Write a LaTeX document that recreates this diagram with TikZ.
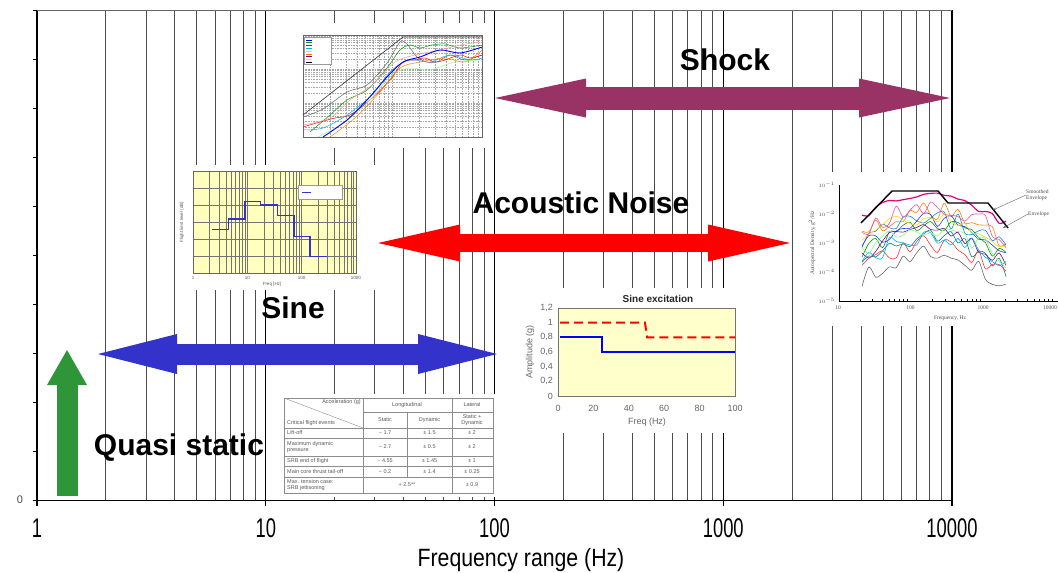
\documentclass[tikz,border=0pt]{standalone}
\usepackage{fontspec}
\setmainfont{Liberation Sans}
\newfontfamily\psdfont{Liberation Serif}
\usepackage{graphicx}
\usetikzlibrary{arrows.meta,positioning}

\definecolor{qsgreen}{RGB}{46,150,56}
\definecolor{sineblue}{RGB}{51,51,204}
\definecolor{noisered}{RGB}{255,0,0}
\definecolor{shockplum}{RGB}{153,51,102}
\definecolor{paleyellow}{RGB}{255,255,204}
\definecolor{flightyellow}{RGB}{255,255,190}
\definecolor{psdpink}{RGB}{230,0,126}

\tikzset{
  gridminor/.style={black!70, line width=0.8pt},
  gridmajor/.style={black, line width=1.1pt},
  bandlabel/.style={font=\fontsize{30}{34}\selectfont\bfseries, inner sep=0pt},
  ticklabel/.style={font=\fontsize{27}{30}\selectfont, text=black, inner sep=0pt},
  tinytext/.style={font=\fontsize{5.5}{6.5}\selectfont, text=black!65, inner sep=0pt},
  chartlabel/.style={font=\fontsize{9}{10}\selectfont, text=black!60, inner sep=0pt},
  psdlabel/.style={font=\psdfont\fontsize{5.5}{6.5}\selectfont, text=black!70, inner sep=0pt},
  tabline/.style={black!45, line width=0.4pt},
  srsgrid/.style={black!35, line width=0.25pt, dash pattern=on 0.8pt off 0.8pt},
  flgrid/.style={black!55, line width=0.35pt},
  qsarrow/.style={line width=21pt, qsgreen, >={Triangle[length=35pt,width=40pt,line width=0pt]}, ->},
  sinearrow/.style={line width=21pt, sineblue, >={Triangle[length=79pt,width=40pt,line width=0pt]}, <->},
  noisearrow/.style={line width=18pt, noisered, >={Triangle[length=82pt,width=37pt,line width=0pt]}, <->},
  shockarrow/.style={line width=23pt, shockplum, >={Triangle[length=91pt,width=39pt,line width=0pt]}, <->},
}

\begin{document}
\begin{tikzpicture}[x=1pt, y=-1pt]
\useasboundingbox (0,0) rectangle (1058,573);

% log grid
\foreach \d in {0,...,3}
  \foreach \m in {2,...,9}
    \draw[gridminor] ({37+228.75*(\d+log10(\m))},10) -- ({37+228.75*(\d+log10(\m))},500);
\foreach \d in {0,...,4}
  \draw[gridmajor] ({37+228.75*\d},10) -- ({37+228.75*\d},506);
\draw[black!60, line width=0.8pt] (37,10) -- (952,10);
\draw[black, line width=1pt] (33,500) -- (952,500);
\foreach \k in {0,...,9}
  \draw[black, line width=0.8pt] (33,{10+49*\k}) -- (37,{10+49*\k});
\node[font=\fontsize{11}{12}\selectfont, text=black!70, inner sep=0pt] (zero) at (20,500) {0};
\foreach \d/\t in {0/1,1/10,2/100,3/1000,4/10000}
  \node[ticklabel] (xl\d) at ({37+228.75*\d},528) {\scalebox{0.68}[1]{\t}};
\node[font=\fontsize{25}{28}\selectfont, text=black, inner sep=0pt] (xtitle) at (521,560) {\scalebox{0.85}[1]{Frequency range (Hz)}};

% inset: shock response
\fill[white] (295,23) rectangle (486,148);
\foreach \d in {0,1}
  \foreach \m in {1,...,9}
    \draw[srsgrid] ({303+89.5*(\d+log10(\m))},35) -- ({303+89.5*(\d+log10(\m))},137);
\foreach \d in {0,1,2}
  \foreach \m in {1,...,9}
    \draw[srsgrid] (303,{137-34*(\d+log10(\m))}) -- (482,{137-34*(\d+log10(\m))});
\draw[black!60, line width=0.4pt] (303,35) rectangle (482,137);
\draw[black!40, fill=white, line width=0.3pt] (304,37) rectangle (331,64);
\foreach \c [count=\i] in {blue,green!60!black,red,cyan,pink,orange,violet,green!40,black}
  \draw[\c, line width=0.5pt] (306,{37+2.8*\i}) -- (312,{37+2.8*\i});
\draw[black!80, line width=0.6pt] (303,115) -- (403,37) -- (482,37);
\draw[black!60, line width=0.5pt] plot[smooth] coordinates {(303,117) (323,109) (347,92) (367,85) (387,63) (400,42) (407,44) (417,57) (427,62) (437,62) (450,55) (465,60) (482,55)};
\draw[red, line width=0.5pt] plot[smooth] coordinates {(303,127) (320,122) (335,118) (350,115) (370,100) (390,80) (403,62) (415,60) (425,58) (435,62) (445,60) (460,55) (470,58) (482,55)};
\draw[green!60!black, line width=0.5pt] plot[smooth] coordinates {(310,132) (330,115) (347,100) (367,90) (387,68) (400,50) (410,45) (420,48) (432,45) (445,44) (460,48) (482,45)};
\draw[cyan, line width=0.5pt] plot[smooth] coordinates {(303,130) (323,128) (347,115) (372,95) (392,70) (410,60) (430,62) (450,55) (470,60) (482,58)};
\draw[pink!80!red, line width=0.5pt] plot[smooth] coordinates {(303,125) (330,118) (350,100) (372,85) (395,62) (415,55) (440,50) (460,45) (482,42)};
\draw[green!45, line width=0.5pt] plot[smooth] coordinates {(318,137) (345,122) (370,100) (392,75) (410,68) (430,70) (455,62) (482,60)};
\draw[orange, line width=0.5pt] plot[smooth] coordinates {(330,137) (355,118) (380,92) (400,68) (420,62) (445,58) (465,62) (482,50)};
\draw[blue, line width=0.9pt] plot[smooth] coordinates {(323,137) (347,120) (367,100) (387,77) (403,62) (420,57) (440,50) (460,53) (482,47)};

% inset: flight levels
\fill[white] (175,165) rectangle (376,290);
\fill[flightyellow] (193,171) rectangle (356,273);
\foreach \d in {0,1,2}
  \foreach \m in {1,...,9}
    \draw[flgrid] ({193+54.33*(\d+log10(\m))},171) -- ({193+54.33*(\d+log10(\m))},273);
\foreach \k in {1,...,5}
  \draw[flgrid] (193,{171+17*\k}) -- (356,{171+17*\k});
\draw[black!60, line width=0.4pt] (193,171) rectangle (356,273);
\draw[black!40, fill=white, line width=0.3pt] (298,185) rectangle (342,199);
\draw[sineblue, line width=1pt] (302,192) -- (311,192);
\draw[sineblue, line width=1.4pt] (211.7,229.3) -- (228.3,229.3) -- (228.3,219) -- (245,219) -- (245,201.7) -- (260.7,201.7) -- (260.7,205) -- (277.3,205) -- (277.3,215.3) -- (294,215.3) -- (294,236.3) -- (310,236.3) -- (310,256.7) -- (326.7,256.7);
\foreach \d/\t in {0/1,1/10,2/100,3/1000}
  \node[tinytext, font=\fontsize{4.5}{5}\selectfont] (fl\d) at ({193+54.33*\d},278) {\t};
\node[tinytext, font=\fontsize{4.5}{5}\selectfont] (flx) at (272,284) {Freq [Hz]};
\node[tinytext, font=\fontsize{4.5}{5}\selectfont, rotate=90] (fly) at (182,222) {Flight limit level (dB)};

% inset: load table
\fill[white] (282,394) rectangle (498,497);
\draw[tabline] (284,398) rectangle (493,493);
\draw[tabline] (363,398) -- (363,493);
\draw[tabline] (452,398) -- (452,493);
\draw[tabline] (407,412) -- (407,477);
\draw[tabline] (363,412) -- (493,412);
\foreach \y in {428,438,456,466,477}
  \draw[tabline] (284,\y) -- (493,\y);
\draw[tabline] (284,398) -- (363,428);
\node[tinytext, anchor=east] (tacc) at (361,402) {Acceleration (g)};
\node[tinytext, anchor=west] (tcrit) at (287,423) {Critical flight events};
\node[tinytext] (tlong) at (407,405) {Longitudinal};
\node[tinytext] (tlat) at (472,405) {Lateral};
\node[tinytext] (tstat) at (385,420) {Static};
\node[tinytext] (tdyn) at (429.5,420) {Dynamic};
\node[tinytext, align=center] (tsd) at (472,420) {Static +\\Dynamic};
\foreach \y/\ev/\s/\dy/\la [count=\i] in {
    433/Lift-off/{− 1.7}/{± 1.5}/{± 2},
    447/{Maximum dynamic\\pressure}/{− 2.7}/{± 0.5}/{± 2},
    461/SRB end of flight/{− 4.55}/{± 1.45}/{± 1},
    471.5/Main core thrust tail-off/{− 0.2}/{± 1.4}/{± 0.25}}{
  \node[tinytext, anchor=west, align=left] (ev\i) at (287,\y) {\ev};
  \node[tinytext] (st\i) at (385,\y) {\s};
  \node[tinytext] (dy\i) at (429.5,\y) {\dy};
  \node[tinytext] (la\i) at (472,\y) {\la};
}
\node[tinytext, anchor=west, align=left] (ev5) at (287,485) {Max. tension case:\\SRB jettisoning};
\node[tinytext] (st5) at (407,485) {+ 2.5**};
\node[tinytext] (la5) at (472,485) {± 0.9};

% inset: sine excitation
\fill[white] (503,288) rectangle (746,433);
\fill[paleyellow] (558,308) rectangle (735,396);
\draw[black!55, line width=0.5pt] (558,308) rectangle (735,396);
\node[font=\fontsize{10}{11}\selectfont\bfseries, text=black!85, inner sep=0pt] (extitle) at (658,299) {Sine excitation};
\foreach \v/\t in {0/0,1/{0,2},2/{0,4},3/{0,6},4/{0,8},5/1,6/{1,2}}
  \node[chartlabel, anchor=east] (exy\v) at (553,{396-14.67*\v}) {\t};
\foreach \v in {0,20,...,100}
  \node[chartlabel] (exx\v) at ({558+1.77*\v},408) {\v};
\node[chartlabel] (exfreq) at (647,422) {Freq (Hz)};
\node[chartlabel, rotate=90] (examp) at (530,352) {Amplitude (g)};
\draw[noisered, line width=2pt, dash pattern=on 9pt off 5pt] (560,322.7) -- (645,322.7) -- (647,337.3) -- (735,337.3);
\draw[blue, line width=2pt] (560,337.3) -- (602,337.3) -- (602,352) -- (735,352);

% inset: acoustic spectrum
\fill[white] (800,172) rectangle (1058,326);
\draw[black, line width=0.6pt] (839,185) -- (839,301) -- (1058,301);
\foreach \k in {0,...,4}
  \node[psdlabel, anchor=east] (psy\k) at (835,{185+29*\k}) {$10^{-\the\numexpr\k+1\relax}$};
\foreach \d/\t in {0/10,1/100,2/1000}
  \node[psdlabel] (psx\d) at ({838+72.5*\d},308) {\t};
\node[psdlabel, anchor=east] (psx3) at (1057,308) {10000};
\foreach \d in {0,1,2}
  \foreach \m in {2,...,9}
    \draw[black, line width=0.3pt] ({838+72.5*(\d+log10(\m))},301) -- ({838+72.5*(\d+log10(\m))},299);
\node[psdlabel] (psfreq) at (950,318) {Frequency, Hz};
\node[psdlabel, rotate=90] (psdens) at (812,243) {Autospectral Density, g$^2$/Hz};
\pgfmathsetseed{42}
\foreach \c/\o in {orange/14, cyan!70!blue/22, green!60!black/30, blue!80/26, violet/36, teal/42, red!80/48, black!60/58, yellow!80!orange/20, cyan/40, green!50/34, magenta!70/10}
  \draw[\c, line width=0.6pt] plot[smooth, domain=862:1006, samples=22] (\x, {min(296, 196+\o+32*((\x-930)/75)^2+9*rand)});
\draw[psdpink, line width=1.2pt] plot[smooth, domain=862:1006, samples=22] (\x, {194+30*((\x-930)/75)^2+5*rand});
\draw[black, line width=1.4pt] (861,223) -- (892,191) -- (938,191) -- (948,203) -- (988,203) -- (1008,228);
\node[psdlabel, anchor=west, align=left] (smenv) at (1026,195) {Smoothed\\Envelope};
\node[psdlabel, anchor=west] (envlbl) at (1028,214) {Envelope};
\draw[black!60, line width=0.4pt, -{Stealth[length=3pt]}] (smenv.west) -- (993,210);
\draw[black!60, line width=0.4pt, -{Stealth[length=3pt]}] (envlbl.west) -- (1003,228);

% frequency bands
\coordinate (qsbot) at (67,496);
\coordinate (qstop) at (67,350);
\coordinate (sineL) at (98,354);
\coordinate (sineR) at (497,354);
\coordinate (noiseL) at (378,243);
\coordinate (noiseR) at (790,243);
\coordinate (shockL) at (495,98);
\coordinate (shockR) at (950,98);
\draw[qsarrow] (qsbot) -- (qstop);
\draw[sinearrow] (sineL) -- (sineR);
\draw[noisearrow] (noiseL) -- (noiseR);
\draw[shockarrow] (shockL) -- (shockR);

\node[bandlabel] (qslabel) at (179,448) {Quasi static};
\node[bandlabel] (sinelabel) at (293,308) {Sine};
\node[bandlabel] (noiselabel) at (581,203) {Acoustic Noise};
\node[bandlabel] (shocklabel) at (725,60) {Shock};
\end{tikzpicture}
\end{document}
